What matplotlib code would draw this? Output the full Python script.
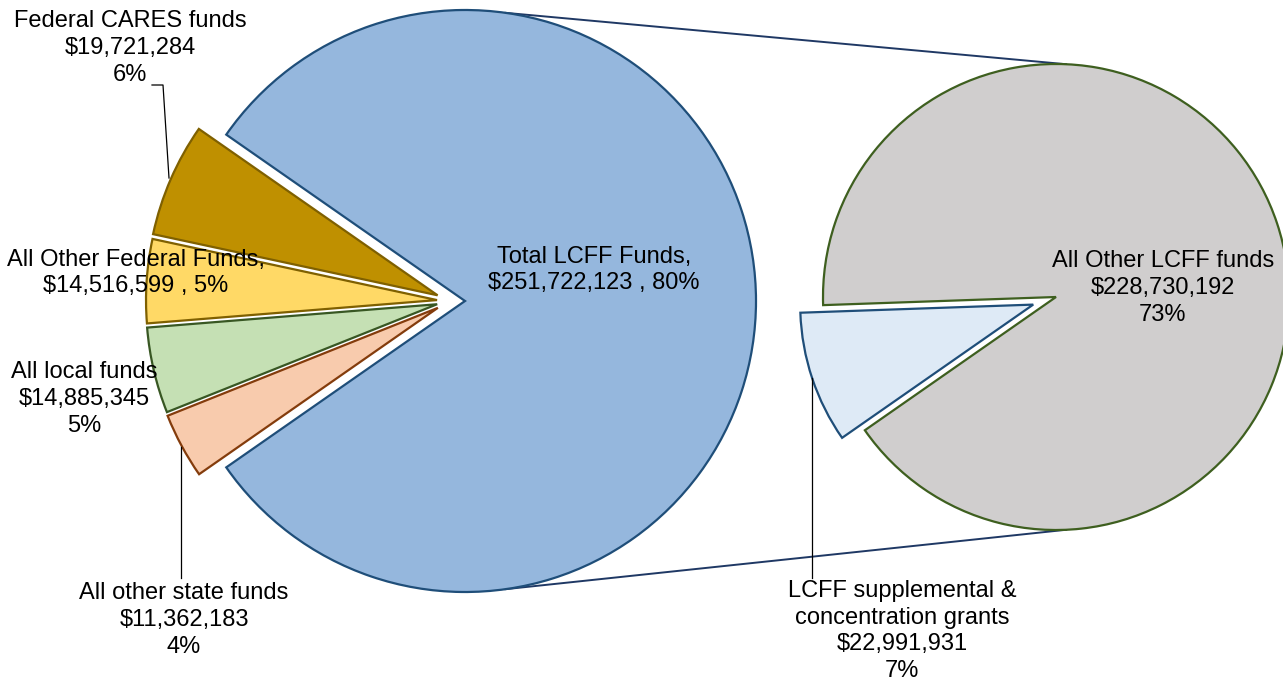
import numpy as np
import matplotlib.pyplot as plt
from matplotlib.patches import Wedge

plt.rcParams['font.family'] = ['Liberation Sans', 'DejaVu Sans']

W, H = 1283, 684

# first pie: total LCFF and the other funds
left_names = ['Total LCFF Funds', 'Federal CARES funds', 'All Other Federal Funds',
              'All local funds', 'All other state funds']
left_vals = [251722123, 19721284, 14516599, 14885345, 11362183]
left_pcts = ['80%', '6%', '5%', '5%', '4%']

# second pie: split of the LCFF slice
right_names = ['LCFF supplemental & concentration grants', 'All Other LCFF funds']
right_vals = [22991931, 228730192]
right_pcts = ['7%', '73%']

left_fill = ['#95B7DD', '#BF9000', '#FFD966', '#C5E0B4', '#F8CBAD']
left_edge = ['#1F4E79', '#7F6000', '#7F6000', '#385723', '#843C0C']
right_fill = ['#DEEAF6', '#D0CECE']
right_edge = ['#1F4E79', '#3E5F1F']


def Y(y):
    return H - y


fig = plt.figure(figsize=(12.83, 6.84), dpi=100)
ax = fig.add_axes([0, 0, 1, 1])
ax.set_xlim(0, W)
ax.set_ylim(0, H)
ax.set_aspect('equal')
ax.axis('off')

# ---- left pie
c1 = np.array([465.0, Y(301)])
r1 = 291
tot = sum(left_vals)
spans = [v / tot * 360 for v in left_vals]
a = spans[0] / 2
ax.add_patch(Wedge(c1, r1, -a, a, fc=left_fill[0], ec=left_edge[0], lw=1.6, zorder=2))
for i in range(1, len(left_vals)):
    t1, t2 = a, a + spans[i]
    mid = (t1 + t2) / 2
    d = np.radians(180 + (mid - 180) * 0.5)
    cc = c1 + 28 * np.array([np.cos(d), np.sin(d)])
    ax.add_patch(Wedge(cc, r1, t1, t2, fc=left_fill[i], ec=left_edge[i], lw=1.6, zorder=2))
    a = t2

# ---- right pie
c2 = np.array([1056.0, Y(297)])
r2 = 233
rtot = sum(right_vals)
start = 182
s0 = right_vals[0] / rtot * 360
mid = np.radians(start + s0 / 2)
cc = c2 + 24 * np.array([np.cos(mid), np.sin(mid)])
ax.add_patch(Wedge(cc, r2, start, start + s0, fc=right_fill[0], ec=right_edge[0], lw=1.6, zorder=2))
ax.add_patch(Wedge(c2, r2, start + s0, start + 360, fc=right_fill[1], ec=right_edge[1], lw=1.6, zorder=2))

# connector lines
for ang1, ang2 in [(82, 87.5), (-82, -87.5)]:
    p1 = c1 + r1 * np.array([np.cos(np.radians(ang1)), np.sin(np.radians(ang1))])
    p2 = c2 + r2 * np.array([np.cos(np.radians(ang2)), np.sin(np.radians(ang2))])
    ax.plot([p1[0], p2[0]], [p1[1], p2[1]], color='#1F3864', lw=1.4, zorder=1)

# leader lines
lk = dict(color='black', lw=0.9, zorder=3)
ax.plot([152, 163, 169], [Y(85), Y(85), Y(178)], **lk)
ax.plot([181, 181], [Y(447), Y(578)], **lk)
ax.plot([812, 812], [Y(378), Y(578)], **lk)

fs = 17
tk = dict(ha='center', va='center', fontsize=fs, linespacing=1.28, zorder=4)


def money(v):
    return '${:,}'.format(v)


ax.text(594, Y(270), f'{left_names[0]},\n{money(left_vals[0])} , {left_pcts[0]}', **tk)
ax.text(130, Y(48), f'{left_names[1]}\n{money(left_vals[1])}\n{left_pcts[1]}', **tk)
ax.text(136, Y(273), f'{left_names[2]},\n{money(left_vals[2])} , {left_pcts[2]}', **tk)
ax.text(84, Y(399), f'{left_names[3]}\n{money(left_vals[3])}\n{left_pcts[3]}', **tk)
ax.text(184, Y(620), f'{left_names[4]}\n{money(left_vals[4])}\n{left_pcts[4]}', **tk)
ax.text(1163, Y(288), f'{right_names[1]}\n{money(right_vals[1])}\n{right_pcts[1]}', **tk)
ax.text(902, Y(631), 'LCFF supplemental &\nconcentration grants\n'
        f'{money(right_vals[0])}\n{right_pcts[0]}', **tk)

fig.savefig('out.png', dpi=100)
